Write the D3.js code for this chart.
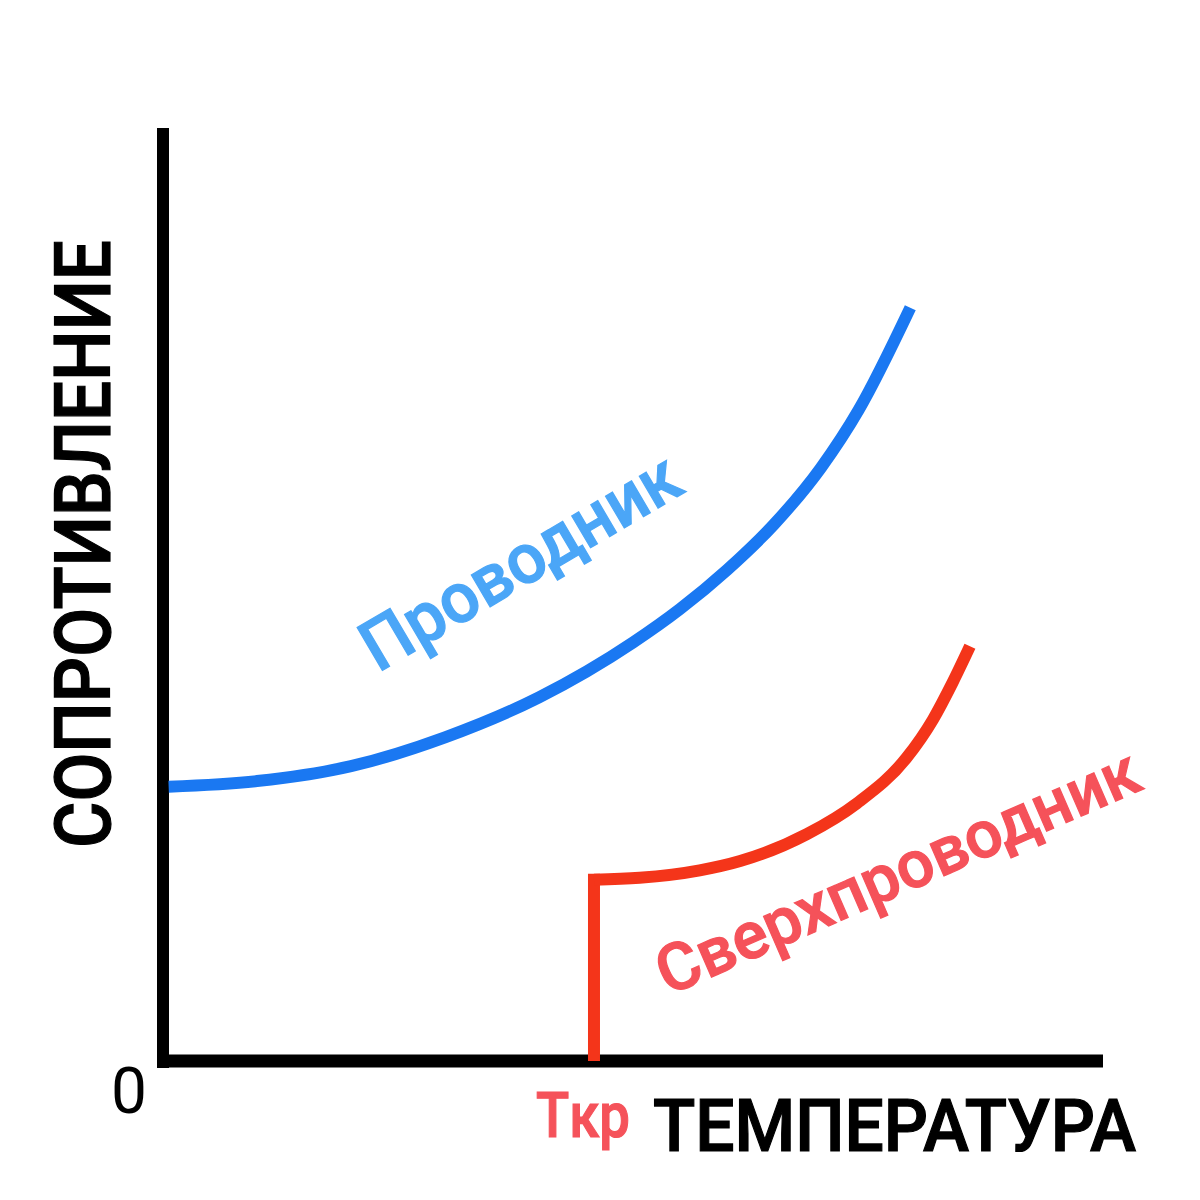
<!DOCTYPE html>
<html><head><meta charset="utf-8">
<script src="https://cdn.jsdelivr.net/npm/d3@7"></script>
<style>html,body{margin:0;padding:0;background:#fff;}svg{display:block;}</style>
</head><body>
<div id="chart"></div>
<script>
// Data (arbitrary units: temperature 0..10, resistance 0..10)
const conductorT = [0.06, 1, 2, 3, 4, 5, 5.5, 6, 6.5, 7, 7.4, 7.95];
const conductorR = [2.95, 3.01, 3.17, 3.48, 3.91, 4.50, 4.86, 5.28, 5.77, 6.38, 7.00, 8.10];
const superT = [4.585, 5.07, 5.71, 6.14, 6.85, 7.38, 7.91, 8.19, 8.40, 8.585];
const superR = [1.95, 1.97, 2.05, 2.15, 2.44, 2.77, 3.26, 3.67, 4.07, 4.46];
const criticalT = 4.585;
const labels = {y: "СОПРОТИВЛЕНИЕ", x: "ТЕМПЕРАТУРА", tc: "Tкр", zero: "0",
  conductor: "Проводник", superconductor: "Сверхпроводник"};

const W = 1200, H = 1200;
const svg = d3.select("#chart").append("svg").attr("width", W).attr("height", H);
const x = d3.scaleLinear().domain([0, 10]).range([163, 1103]);
const y = d3.scaleLinear().domain([0, 10]).range([1061, 131]);

const font = "Roboto, 'Noto Sans', sans-serif";

// axes
svg.append("line").attr("x1", x(0)).attr("x2", x(0)).attr("y1", y(10) - 3).attr("y2", y(0) + 7)
  .attr("stroke", "#000").attr("stroke-width", 12);
svg.append("line").attr("x1", x(0) - 6).attr("x2", x(10)).attr("y1", y(0)).attr("y2", y(0))
  .attr("stroke", "#000").attr("stroke-width", 13);

// conductor curve
const line = d3.line().x(d => x(d[0])).y(d => y(d[1])).curve(d3.curveMonotoneX);
svg.append("path").datum(d3.zip(conductorT, conductorR)).attr("d", line)
  .attr("fill", "none").attr("stroke", "#1a78f2").attr("stroke-width", 12);

// superconductor
svg.append("line").attr("x1", x(criticalT)).attr("x2", x(criticalT))
  .attr("y1", y(0) - 6).attr("y2", y(superR[0]))
  .attr("stroke", "#f4351a").attr("stroke-width", 12).attr("stroke-linecap", "square");
svg.append("path").datum(d3.zip(superT, superR)).attr("d", line)
  .attr("fill", "none").attr("stroke", "#f4351a").attr("stroke-width", 12);

// texts
function label(sel, color) {
  return sel.attr("font-family", font).attr("font-weight", 500).attr("fill", color)
    .attr("stroke", color).attr("stroke-width", 1.2).attr("lengthAdjust", "spacingAndGlyphs");
}
label(svg.append("text").text(labels.y), "#000")
  .attr("transform", "translate(110,544) rotate(-90)")
  .attr("text-anchor", "middle").attr("font-size", 77).attr("textLength", 608);

label(svg.append("text").text(labels.x), "#000")
  .attr("x", 653).attr("y", 1151).attr("font-size", 73).attr("textLength", 483);

label(svg.append("text").text(labels.tc), "#f5525a")
  .attr("x", 536).attr("y", 1137).attr("font-size", 63).attr("textLength", 94);

svg.append("text").text(labels.zero)
  .attr("x", 111).attr("y", 1113)
  .attr("font-family", font).attr("font-size", 64).attr("fill", "#000");

label(svg.append("text").text(labels.conductor), "#4ba6f7")
  .attr("transform", "translate(378,673) rotate(-30.5)")
  .attr("font-size", 70).attr("textLength", 358);

label(svg.append("text").text(labels.superconductor), "#f5525a")
  .attr("transform", "translate(668,996) rotate(-23.5)")
  .attr("font-size", 66).attr("textLength", 520);
</script>
</body></html>
